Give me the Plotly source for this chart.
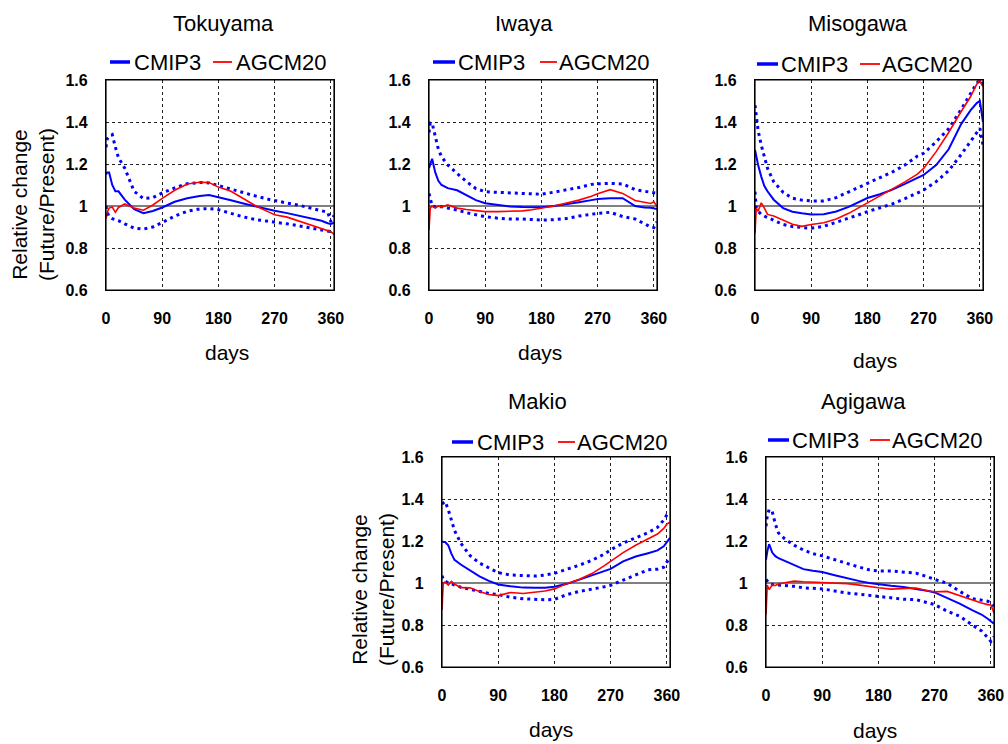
import plotly.graph_objects as go

# Day of year at which each series is sampled
DAYS = [0, 2, 5, 10, 15, 20, 30, 45, 60, 75, 90, 110, 130, 150, 165, 180,
        200, 220, 240, 260, 270, 290, 310, 330, 345, 355, 360, 365]

# Tokuyama
TOKUYAMA_CMIP3 = [1.15, 1.16, 1.16, 1.10, 1.07, 1.07, 1.03, 0.985, 0.966, 0.976, 0.993, 1.02, 1.037, 1.048,
                  1.052, 1.04, 1.027, 1.012, 0.997, 0.983, 0.977, 0.966, 0.953, 0.941, 0.93, 0.918, 0.915, 0.92]
TOKUYAMA_CMIP3_UPPER = [1.28, 1.32, 1.33, 1.34, 1.28, 1.23, 1.18, 1.07, 1.035, 1.04, 1.062, 1.086, 1.106, 1.112,
                        1.11, 1.097, 1.083, 1.066, 1.047, 1.032, 1.025, 1.014, 1.003, 0.987, 0.978, 0.97, 0.925, 0.955]
TOKUYAMA_CMIP3_LOWER = [1.0, 0.97, 0.95, 0.94, 0.935, 0.93, 0.915, 0.895, 0.89, 0.9, 0.921, 0.952, 0.975, 0.986,
                        0.988, 0.982, 0.965, 0.948, 0.935, 0.928, 0.924, 0.915, 0.905, 0.895, 0.888, 0.882, 0.878, 0.875]
TOKUYAMA_AGCM20 = [0.94, 0.97, 0.99, 0.995, 0.97, 0.993, 1.01, 0.99, 0.98, 1.005, 1.036, 1.075, 1.105, 1.113,
                   1.112, 1.09, 1.07, 1.035, 1.0, 0.972, 0.958, 0.947, 0.928, 0.908, 0.896, 0.886, 0.878, 0.865]

# Iwaya
IWAYA_CMIP3 = [1.18, 1.2, 1.225, 1.16, 1.12, 1.1, 1.085, 1.075, 1.052, 1.028, 1.013, 1.005, 0.998, 0.995,
               0.994, 0.994, 1.0, 1.008, 1.018, 1.028, 1.033, 1.037, 1.037, 1.0, 0.993, 0.992, 0.99, 0.985]
IWAYA_CMIP3_UPPER = [1.35, 1.395, 1.395, 1.33, 1.27, 1.235, 1.195, 1.155, 1.116, 1.083, 1.068, 1.065, 1.062, 1.058,
                     1.056, 1.056, 1.066, 1.076, 1.088, 1.103, 1.106, 1.108, 1.105, 1.078, 1.07, 1.068, 1.065, 1.06]
IWAYA_CMIP3_LOWER = [1.06, 1.03, 1.0, 0.997, 0.997, 0.997, 0.99, 0.981, 0.968, 0.958, 0.949, 0.942, 0.938, 0.938,
                     0.936, 0.933, 0.935, 0.94, 0.952, 0.962, 0.965, 0.97, 0.95, 0.938, 0.915, 0.9, 0.897, 0.925]
IWAYA_AGCM20 = [0.886, 0.99, 1.0, 0.99, 1.0, 0.995, 1.005, 0.99, 0.983, 0.978, 0.973, 0.973, 0.974, 0.977,
                0.982, 0.989, 1.0, 1.014, 1.028, 1.046, 1.058, 1.078, 1.06, 1.026, 1.018, 1.012, 1.02, 0.997]

# Misogawa
MISOGAWA_CMIP3 = [1.267, 1.23, 1.195, 1.14, 1.095, 1.07, 1.03, 0.99, 0.973, 0.965, 0.96, 0.961, 0.974, 0.996,
                  1.018, 1.038, 1.056, 1.078, 1.105, 1.135, 1.148, 1.195, 1.27, 1.39, 1.455, 1.49, 1.5, 1.40]
MISOGAWA_CMIP3_UPPER = [1.48, 1.42, 1.36, 1.29, 1.23, 1.18, 1.115, 1.065, 1.037, 1.028, 1.024, 1.024, 1.04, 1.068,
                        1.088, 1.108, 1.135, 1.162, 1.195, 1.238, 1.251, 1.306, 1.368, 1.46, 1.535, 1.585, 1.6, 1.576]
MISOGAWA_CMIP3_LOWER = [1.068, 0.99, 0.975, 0.96, 0.952, 0.945, 0.93, 0.912, 0.902, 0.897, 0.894, 0.903, 0.922, 0.94,
                        0.957, 0.973, 0.993, 1.01, 1.035, 1.063, 1.076, 1.116, 1.168, 1.245, 1.305, 1.35, 1.37, 1.29]
MISOGAWA_AGCM20 = [0.87, 0.99, 0.975, 1.015, 0.99, 0.96, 0.952, 0.932, 0.913, 0.903, 0.912, 0.92, 0.938, 0.965,
                   0.99, 1.014, 1.046, 1.08, 1.115, 1.152, 1.179, 1.259, 1.35, 1.45, 1.52, 1.58, 1.6, 1.568]

# Makio
MAKIO_CMIP3 = [1.2, 1.195, 1.195, 1.18, 1.14, 1.11, 1.088, 1.06, 1.032, 1.01, 0.993, 0.984, 0.978, 0.977,
               0.977, 0.982, 0.996, 1.016, 1.037, 1.058, 1.067, 1.103, 1.126, 1.142, 1.155, 1.175, 1.195, 1.215]
MAKIO_CMIP3_UPPER = [1.376, 1.38, 1.388, 1.35, 1.3, 1.25, 1.19, 1.13, 1.095, 1.07, 1.049, 1.038, 1.034, 1.033,
                     1.038, 1.046, 1.066, 1.085, 1.108, 1.138, 1.158, 1.19, 1.215, 1.24, 1.265, 1.3, 1.325, 1.336]
MAKIO_CMIP3_LOWER = [1.035, 1.017, 1.01, 1.0, 0.997, 0.99, 0.98, 0.97, 0.957, 0.95, 0.945, 0.932, 0.925, 0.921,
                     0.92, 0.922, 0.945, 0.96, 0.97, 0.982, 0.989, 1.013, 1.038, 1.063, 1.066, 1.075, 1.1, 1.116]
MAKIO_AGCM20 = [0.873, 1.0, 1.005, 0.99, 1.008, 0.995, 0.978, 0.977, 0.96, 0.945, 0.94, 0.955, 0.95, 0.955,
                0.962, 0.972, 0.997, 1.018, 1.045, 1.083, 1.103, 1.145, 1.18, 1.21, 1.233, 1.26, 1.28, 1.29]

# Agigawa
AGIGAWA_CMIP3 = [1.11, 1.15, 1.185, 1.145, 1.128, 1.118, 1.105, 1.085, 1.066, 1.058, 1.052, 1.037, 1.022, 1.009,
                 1.0, 0.993, 0.987, 0.981, 0.973, 0.962, 0.955, 0.93, 0.902, 0.871, 0.85, 0.83, 0.82, 0.806]
AGIGAWA_CMIP3_UPPER = [1.27, 1.32, 1.35, 1.34, 1.28, 1.238, 1.21, 1.18, 1.157, 1.14, 1.129, 1.11, 1.094, 1.075,
                       1.063, 1.057, 1.057, 1.053, 1.047, 1.028, 1.017, 0.999, 0.96, 0.926, 0.918, 0.913, 0.905, 0.889]
AGIGAWA_CMIP3_LOWER = [1.017, 1.01, 1.0, 0.993, 0.992, 0.99, 0.989, 0.984, 0.977, 0.975, 0.972, 0.962, 0.952, 0.946,
                       0.941, 0.937, 0.927, 0.923, 0.921, 0.906, 0.897, 0.866, 0.842, 0.8, 0.772, 0.74, 0.722, 0.745]
AGIGAWA_AGCM20 = [0.849, 0.99, 0.969, 0.99, 0.988, 0.995, 1.001, 1.009, 1.006, 1.004, 1.004, 1.002, 0.997, 0.99,
                  0.983, 0.977, 0.971, 0.973, 0.976, 0.962, 0.958, 0.96, 0.94, 0.918, 0.905, 0.897, 0.895, 0.857]

STATIONS = ["Tokuyama", "Iwaya", "Misogawa", "Makio", "Agigawa"]
CMIP3_MEAN = [TOKUYAMA_CMIP3, IWAYA_CMIP3, MISOGAWA_CMIP3, MAKIO_CMIP3, AGIGAWA_CMIP3]
CMIP3_UPPER = [TOKUYAMA_CMIP3_UPPER, IWAYA_CMIP3_UPPER, MISOGAWA_CMIP3_UPPER, MAKIO_CMIP3_UPPER, AGIGAWA_CMIP3_UPPER]
CMIP3_LOWER = [TOKUYAMA_CMIP3_LOWER, IWAYA_CMIP3_LOWER, MISOGAWA_CMIP3_LOWER, MAKIO_CMIP3_LOWER, AGIGAWA_CMIP3_LOWER]
AGCM20 = [TOKUYAMA_AGCM20, IWAYA_AGCM20, MISOGAWA_AGCM20, MAKIO_AGCM20, AGIGAWA_AGCM20]

X_RANGE = [0, 365]
Y_RANGE = [0.6, 1.6]
X_TICKS = [0, 90, 180, 270, 360]
Y_TICKS = [0.6, 0.8, 1.0, 1.2, 1.4, 1.6]
Y_TICK_TEXT = ["0.6", "0.8", "1", "1.2", "1.4", "1.6"]
BASELINE = 1.0
SERIES_NAMES = ["CMIP3", "AGCM20"]
X_TITLE = "days"
Y_TITLE = "Relative change<br>(Future/Present)"

# ---- page geometry (pixels) ----
W, H = 1008, 744
FONT = "Liberation Sans, Arial, sans-serif"
BLUE, RED = "#0000FF", "#FF0000"

# plot box: left, top, right, bottom
PANELS = [(106, 80, 334, 290), (429, 80, 657, 290), (755, 80, 983, 290),
          (442, 457, 670, 667), (766, 457, 994, 667)]
TITLE_POS = [(223, 24), (524, 24), (858, 24), (537, 401), (863, 401)]
DAYS_POS = [(227, 352), (540, 352), (875, 360), (551, 729), (875, 730)]
# legend: y, blue key x0, x1, text x, red key x0, x1, text x
LEGEND_POS = [(62, 110, 130, 132, 213, 232, 234),
              (62, 433, 455, 456, 540, 557, 557),
              (64, 757, 778, 779, 860, 880, 880),
              (442, 452, 473, 475, 558, 575, 575),
              (440, 768, 789, 790, 870, 890, 890)]
YTITLE_POS = {0: (33, 205), 3: (373, 590)}


def px(x):
    return x / W


def py(y):
    return 1 - y / H


fig = go.Figure()
layout = dict(
    width=W, height=H, autosize=False,
    margin=dict(l=0, r=0, t=0, b=0, autoexpand=False),
    paper_bgcolor="white", plot_bgcolor="white",
    showlegend=False,
    font=dict(family=FONT, color="black"),
)
annotations = []
shapes = []

for i, name in enumerate(STATIONS):
    suffix = "" if i == 0 else str(i + 1)
    xa, ya = "x" + suffix, "y" + suffix
    L, T, R, B = PANELS[i]

    # reference line at ratio 1 (drawn first so the curves sit on top)
    fig.add_trace(go.Scatter(x=X_RANGE, y=[BASELINE, BASELINE], mode="lines",
                             line=dict(color="#808080", width=2),
                             xaxis=xa, yaxis=ya, hoverinfo="skip"))

    dotted = dict(color=BLUE, width=3, dash="3px,4px")
    fig.add_trace(go.Scatter(x=DAYS, y=CMIP3_UPPER[i], mode="lines", line=dotted,
                             xaxis=xa, yaxis=ya, hoverinfo="skip"))
    fig.add_trace(go.Scatter(x=DAYS, y=CMIP3_LOWER[i], mode="lines", line=dotted,
                             xaxis=xa, yaxis=ya, hoverinfo="skip"))
    fig.add_trace(go.Scatter(x=DAYS, y=CMIP3_MEAN[i], mode="lines", name=SERIES_NAMES[0],
                             line=dict(color=BLUE, width=2), xaxis=xa, yaxis=ya))
    fig.add_trace(go.Scatter(x=DAYS, y=AGCM20[i], mode="lines", name=SERIES_NAMES[1],
                             line=dict(color=RED, width=1.6), xaxis=xa, yaxis=ya))

    grid = dict(showgrid=True, gridcolor="#222222", gridwidth=1, griddash="3px,3px",
                showline=True, linecolor="black", linewidth=1.2, mirror=True,
                zeroline=False, ticks="", automargin=False,
                tickfont=dict(family=FONT, size=16, color="black", weight="bold"))
    layout["xaxis" + suffix] = dict(
        grid, domain=[px(L), px(R)], range=X_RANGE, tickvals=X_TICKS,
        anchor=ya, ticklabelstandoff=14, fixedrange=True)
    layout["yaxis" + suffix] = dict(
        grid, domain=[py(B), py(T)], range=Y_RANGE, tickvals=Y_TICKS,
        ticktext=Y_TICK_TEXT, anchor=xa, ticklabelstandoff=14, fixedrange=True)

    # frame round the plotting area
    shapes.append(dict(type="rect", xref=xa + " domain", yref=ya + " domain",
                       x0=0, x1=1, y0=0, y1=1, layer="above",
                       line=dict(color="black", width=1.2), fillcolor="rgba(0,0,0,0)"))

    tx, ty = TITLE_POS[i]
    annotations.append(dict(text=name, x=px(tx), y=py(ty), xref="paper", yref="paper",
                            xanchor="center", yanchor="middle", showarrow=False,
                            font=dict(size=22)))
    dx, dy = DAYS_POS[i]
    annotations.append(dict(text=X_TITLE, x=px(dx), y=py(dy), xref="paper", yref="paper",
                            xanchor="center", yanchor="middle", showarrow=False,
                            font=dict(size=21)))

    ly, b0, b1, bt, r0, r1, rt = LEGEND_POS[i]
    shapes.append(dict(type="line", xref="paper", yref="paper", x0=px(b0), x1=px(b1),
                       y0=py(ly), y1=py(ly), line=dict(color=BLUE, width=3.5)))
    shapes.append(dict(type="line", xref="paper", yref="paper", x0=px(r0), x1=px(r1),
                       y0=py(ly), y1=py(ly), line=dict(color=RED, width=1.8)))
    for label, lx in ((SERIES_NAMES[0], bt), (SERIES_NAMES[1], rt)):
        annotations.append(dict(text=label, x=px(lx), y=py(ly), xref="paper", yref="paper",
                                xanchor="left", yanchor="middle", showarrow=False,
                                font=dict(size=22)))

    if i in YTITLE_POS:
        yx, yy = YTITLE_POS[i]
        annotations.append(dict(text=Y_TITLE, x=px(yx), y=py(yy), xref="paper", yref="paper",
                                xanchor="center", yanchor="middle", showarrow=False,
                                textangle=-90, font=dict(size=21)))

layout["annotations"] = annotations
layout["shapes"] = shapes
fig.update_layout(**layout)

fig.write_html("out.html", config={"displayModeBar": False})
